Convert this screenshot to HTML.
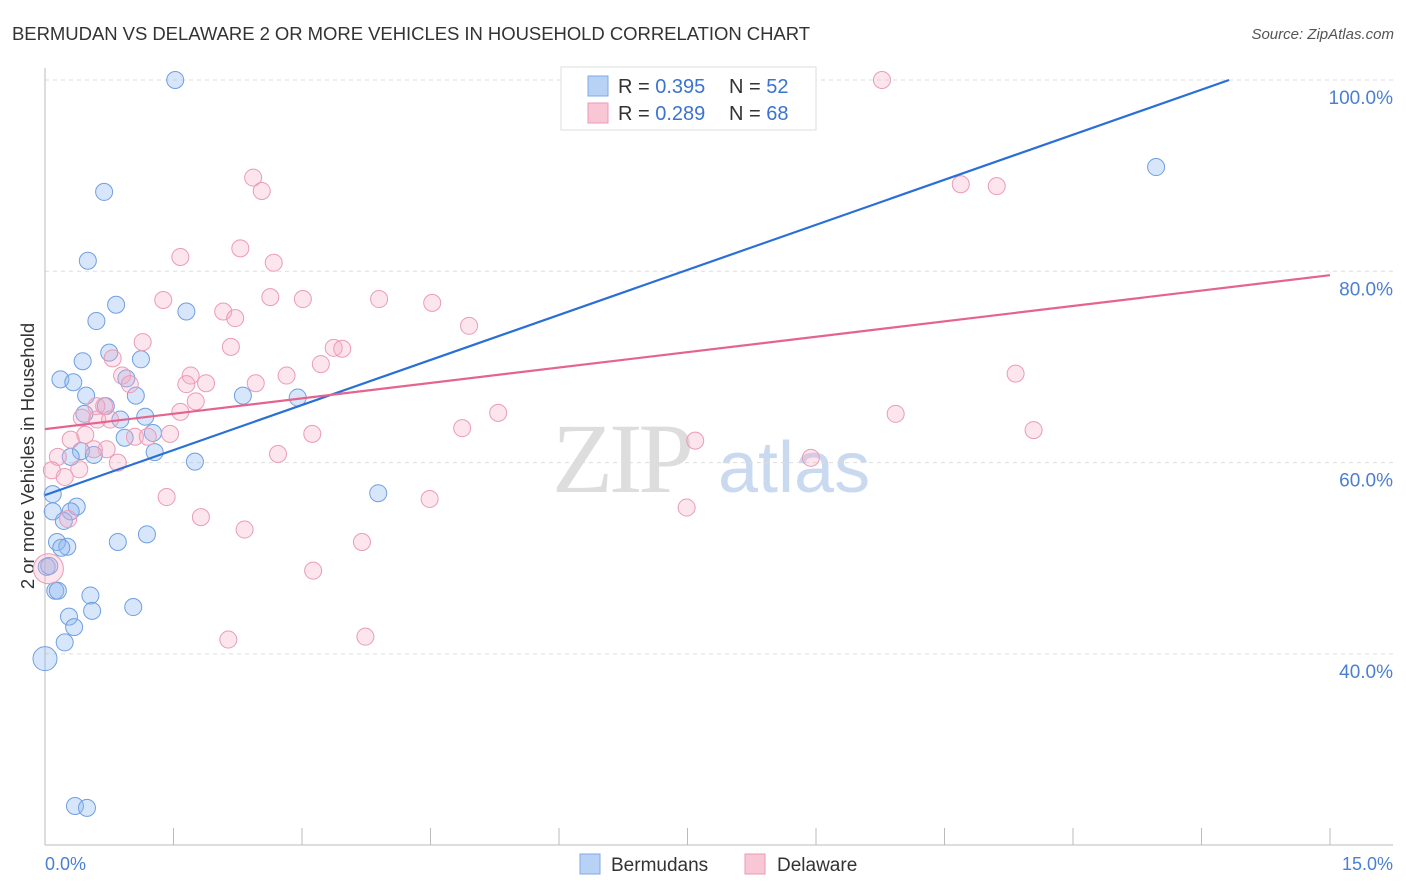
<!DOCTYPE html>
<html><head><meta charset="utf-8"><style>
body{margin:0;background:#fff;font-family:"Liberation Sans",sans-serif}
svg{display:block}
</style></head><body>
<svg id="chart" width="1406" height="892">
<text x="12" y="40" font-size="18.5" fill="#333" textLength="798">BERMUDAN VS DELAWARE 2 OR MORE VEHICLES IN HOUSEHOLD CORRELATION CHART</text>
<text x="1394" y="39" font-size="15" fill="#555" font-style="italic" text-anchor="end">Source: ZipAtlas.com</text>
<text transform="translate(34,456) rotate(-90)" font-size="18.5" fill="#333" text-anchor="middle">2 or more Vehicles in Household</text>
<g>
<text x="552" y="492" font-family="Liberation Serif" font-size="100" fill="#ddd" letter-spacing="-4">ZIP</text>
<text x="718" y="492" font-size="72" fill="#c9daf0">atlas</text>
</g>
<g id="grid"></g>
<line x1="45" y1="68" x2="45" y2="845" stroke="#bbb"/>
<line x1="45" y1="845" x2="1393" y2="845" stroke="#bbb"/>
<g id="xticks"></g>
<text x="45" y="870" font-size="18" fill="#4a7fd4">0.0%</text>
<text x="1393" y="870" font-size="18" fill="#4a7fd4" text-anchor="end">15.0%</text>
<g id="points"></g>
<g id="trends"></g>
<g>
<rect x="561" y="67" width="255" height="63" fill="#fff" stroke="#ddd"/>
<rect x="588" y="76" width="20" height="20" fill="#b8d2f5" stroke="#7fa9e6"/>
<rect x="588" y="103" width="20" height="20" fill="#f9c6d6" stroke="#ec9ab5"/>
<text x="618" y="93" font-size="20" fill="#333">R = <tspan fill="#3b73d1">0.395</tspan></text>
<text x="729" y="93" font-size="20" fill="#333">N = <tspan fill="#3b73d1">52</tspan></text>
<text x="618" y="120" font-size="20" fill="#333">R = <tspan fill="#3b73d1">0.289</tspan></text>
<text x="729" y="120" font-size="20" fill="#333">N = <tspan fill="#3b73d1">68</tspan></text>
</g>
<g>
<rect x="580" y="854" width="20" height="20" fill="#b8d2f5" stroke="#7fa9e6"/>
<text x="611" y="871" font-size="19" fill="#333">Bermudans</text>
<rect x="745" y="854" width="20" height="20" fill="#f9c6d6" stroke="#ec9ab5"/>
<text x="777" y="871" font-size="19" fill="#333">Delaware</text>
</g>
</svg>
<script>
const yTicks=[100,80,60,40];
const yTickLabels=["100.0%","80.0%","60.0%","40.0%"];
const xTickVals=[0,1.5,3,4.5,6,7.5,9,10.5,12,13.5,15];
const bermX=[1.52,0.69,0.50,0.83,0.60,1.65,0.75,0.44,1.12,0.18,0.33,0.95,0.48,1.06,2.31,2.95,0.71,0.46,0.88,1.17,1.26,0.93,0.42,0.30,0.57,1.28,1.75,0.09,3.89,0.09,0.37,0.30,0.22,0.14,0.85,1.19,0.26,0.19,0.02,0.12,0.15,0.53,0.55,1.03,0.28,0.34,0.23,0.0,0.35,0.49,12.97,0.05];
const bermY=[100,88.3,81.1,76.5,74.8,75.8,71.5,70.6,70.8,68.7,68.4,68.8,67.0,67.0,67.0,66.8,65.9,65.1,64.5,64.8,63.1,62.6,61.2,60.6,60.8,61.1,60.1,56.7,56.8,54.9,55.4,54.9,53.9,51.7,51.7,52.5,51.2,51.1,49.1,46.6,46.6,46.1,44.5,44.9,43.9,42.8,41.2,39.5,24.1,23.9,90.9,49.2];
const delX=[9.77,2.43,2.53,2.28,1.58,2.67,1.38,2.63,3.01,3.90,4.52,2.08,2.22,4.95,1.14,2.17,3.37,3.47,0.79,3.22,2.82,1.70,0.90,1.65,0.99,2.46,1.88,1.76,11.33,0.69,1.58,5.29,9.93,0.43,0.61,0.76,0.47,1.05,1.20,1.46,3.12,4.87,11.54,7.59,0.30,0.72,0.57,2.72,8.94,0.15,0.85,0.40,0.08,0.23,1.42,4.49,7.49,1.82,0.27,2.33,3.70,3.13,0.04,2.14,3.74,10.69,11.11,0.60];
const delY=[100,89.8,88.4,82.4,81.5,80.9,77.0,77.3,77.1,77.1,76.7,75.8,75.1,74.3,72.6,72.1,72.0,71.9,70.9,70.3,69.1,69.1,69.1,68.2,68.2,68.3,68.3,66.4,69.3,65.9,65.3,65.2,65.1,64.7,64.5,64.5,62.9,62.7,62.7,63.0,63.0,63.6,63.4,62.3,62.4,61.4,61.4,60.9,60.5,60.6,60.0,59.3,59.2,58.5,56.4,56.2,55.3,54.3,54.1,53.0,51.7,48.7,48.9,41.5,41.8,89.1,88.9,65.9];
const bermTrend=[56.6,3.14];
const delTrend=[63.5,1.073];
const NS="http://www.w3.org/2000/svg";
const xs=v=>45+v*(1285/15);
const ys=v=>80+(100-v)*9.565;
function mk(tag,attrs,parent){const e=document.createElementNS(NS,tag);for(const k in attrs)e.setAttribute(k,attrs[k]);parent.appendChild(e);return e;}
const grid=document.getElementById('grid');
yTicks.forEach((t,i)=>{
  const l=mk('line',{x1:45,x2:1393,y1:ys(t),y2:ys(t),stroke:'#ddd','stroke-dasharray':'4,4'},grid);
  
  
  const tx=mk('text',{x:1393,y:ys(t)+24,'font-size':19,fill:'#4a7fd4','text-anchor':'end'},grid);
  tx.textContent=yTickLabels[i];
  
  
});
const xt=document.getElementById('xticks');
xTickVals.forEach(v=>{
  const l=mk('line',{x1:xs(v),x2:xs(v),y1:828,y2:845,stroke:'#bbb'},xt);
  
  
});
const pts=document.getElementById('points');
bermX.forEach((x,i)=>{
  const big=(bermX[i]===0&&bermY[i]<40);
  const c=mk('circle',{cx:xs(x),cy:ys(bermY[i]),r:big?12:8.5,fill:'rgba(140,182,240,0.35)',stroke:'#6f9fe3','stroke-width':1},pts);
  
  
});
delX.forEach((x,i)=>{
  const big=(delX[i]<0.05);
  const c=mk('circle',{cx:xs(x),cy:ys(delY[i]),r:big?15:8.5,fill:'rgba(246,170,196,0.3)',stroke:'#eb9bb6','stroke-width':1},pts);
  
  
});
const tr=document.getElementById('trends');
const bEnd=(100-bermTrend[0])/bermTrend[1];
const bl=mk('line',{x1:xs(0),y1:ys(bermTrend[0]),x2:xs(bEnd),y2:ys(100),stroke:'#2a6fd6','stroke-width':2.2},tr);


const dl=mk('line',{x1:xs(0),y1:ys(delTrend[0]),x2:xs(15),y2:ys(delTrend[0]+15*delTrend[1]),stroke:'#e5638f','stroke-width':2.2},tr);


</script>
</body></html>
